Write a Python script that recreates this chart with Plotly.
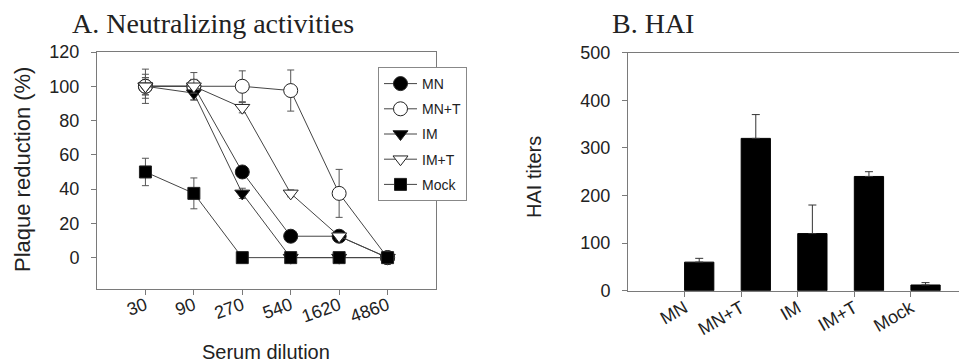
import plotly.graph_objects as go

# ---------------- data ----------------
dilutions = ["30", "90", "270", "540", "1620", "4860"]
mn = [100, 100, 50, 12.5, 12.5, 0]
mn_t = [100, 100, 100, 97.5, 37.5, 0]
im = [100, 96, 37.5, 0, 0, 0]
im_t = [100, 100, 87.5, 37.5, 12.5, 0]
mock = [50, 37.5, 0, 0, 0, 0]

mn_err = [5, 4, 3, 2, 0, 0]
mn_t_err = [10, 8, 9, 12, 14, 0]
im_err = [5, 4, 3, 0, 0, 0]
im_t_err = [7, 4, 3, 2, 2, 0]
mock_err = [8, 9, 0, 0, 0, 0]

groups = ["MN", "MN+T", "IM", "IM+T", "Mock"]
hai = [60, 320, 120, 240, 12]
hai_err = [8, 50, 60, 10, 5]

# ---------------- figure ----------------
W, H = 959, 364
SANS = "Liberation Sans, Arial, sans-serif"
SERIF = "Liberation Serif, Times New Roman, serif"
LINE = "#444444"
AXC = "#7a7a7a"

def px_x(p):
    return p / W

def px_y(p):
    return 1 - p / H

fig = go.Figure()

series = [
    ("MN", mn, mn_err, "circle", "black", 14),
    ("MN+T", mn_t, mn_t_err, "circle", "white", 14),
    ("IM", im, im_err, "triangle-down", "black", 13),
    ("IM+T", im_t, im_t_err, "triangle-down", "white", 13),
    ("Mock", mock, mock_err, "square", "black", 12),
]
for name, vals, errs, sym, fill, size in series:
    fig.add_trace(go.Scatter(
        x=dilutions, y=vals, name=name, mode="lines+markers",
        line=dict(color=LINE, width=1),
        marker=dict(symbol=sym, size=size, color=fill,
                    line=dict(color="#222222", width=1)),
        error_y=dict(type="data", array=errs, visible=True,
                     color="#555555", thickness=1, width=3.5),
        xaxis="x", yaxis="y", legendgroup=name,
    ))

fig.add_trace(go.Bar(
    x=groups, y=hai, offset=0, width=0.517,
    marker=dict(color="black", line=dict(color="black", width=1)),
    error_y=dict(type="data", symmetric=False, array=hai_err,
                 arrayminus=[0] * len(hai_err), visible=True,
                 color="#333333", thickness=1, width=4),
    xaxis="x2", yaxis="y2", showlegend=False,
))

axis_common = dict(showgrid=False, zeroline=False, showline=True,
                   linecolor=AXC, linewidth=1, ticks="outside",
                   ticklen=5, tickcolor=AXC, automargin=False,
                   tickfont=dict(family=SANS, size=18, color="#222222"))

fig.update_layout(
    width=W, height=H,
    margin=dict(l=0, r=0, t=0, b=0, pad=0, autoexpand=False),
    paper_bgcolor="white", plot_bgcolor="white",
    xaxis=dict(domain=[px_x(97), px_x(436)], anchor="y",
               type="category", range=[-1, 6], mirror=True,
               tickangle=-20, ticklabelstandoff=-7, **axis_common),
    yaxis=dict(domain=[px_y(289), px_y(52)], anchor="x",
               range=[-18.3, 120], dtick=20, mirror=True,
               ticklabelstandoff=8, **axis_common),
    xaxis2=dict(domain=[px_x(628), 1.0], anchor="y2",
                type="category", range=[-1, 4.85], mirror=True,
                tickangle=-30, ticklabelstandoff=-6, **axis_common),
    yaxis2=dict(domain=[px_y(290.7), px_y(52.7)], anchor="x2",
                range=[0, 500], dtick=100,
                ticklabelstandoff=8, **axis_common),
    showlegend=True,
    legend=dict(x=px_x(378), y=px_y(67), xanchor="left", yanchor="top",
                bgcolor="white", bordercolor="#888888", borderwidth=1,
                font=dict(family=SANS, size=14, color="#222222"),
                traceorder="grouped", tracegroupgap=4, itemwidth=33),
)

annots = [
    dict(text="A. Neutralizing activities", x=px_x(70), y=px_y(23),
         xanchor="left", yanchor="middle",
         font=dict(family=SERIF, size=28, color="#222222")),
    dict(text="B. HAI", x=px_x(610), y=px_y(23),
         xanchor="left", yanchor="middle",
         font=dict(family=SERIF, size=28, color="#222222")),
    dict(text="Plaque reduction (%)", x=px_x(22), y=px_y(170),
         xanchor="center", yanchor="middle", textangle=-90,
         font=dict(family=SANS, size=22, color="#222222")),
    dict(text="Serum dilution", x=px_x(266), y=px_y(352),
         xanchor="center", yanchor="middle",
         font=dict(family=SANS, size=20, color="#222222")),
    dict(text="HAI titers", x=px_x(534), y=px_y(177),
         xanchor="center", yanchor="middle", textangle=-90,
         font=dict(family=SANS, size=20, color="#222222")),
]
for a in annots:
    fig.add_annotation(xref="paper", yref="paper", showarrow=False, **a)

fig.write_html(
    "out.html",
    config={"displayModeBar": False},
    post_script="document.body.style.margin='0';document.body.style.overflow='hidden';",
)
